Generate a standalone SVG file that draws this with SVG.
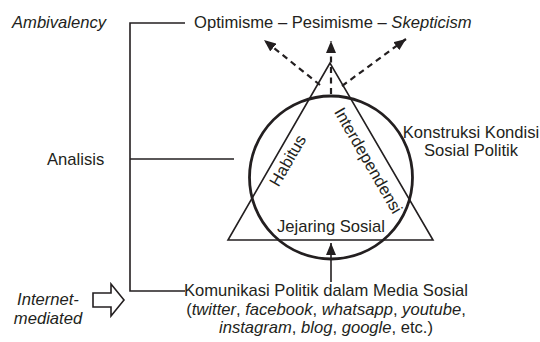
<svg xmlns="http://www.w3.org/2000/svg" width="540" height="342" viewBox="0 0 540 342">
  <style>
    text { font-family: "Liberation Sans", Arial, sans-serif; font-size: 16.6px; fill: #231f20; }
    .it { font-style: italic; }
    .mid { text-anchor: middle; }
    .ln { fill: none; stroke: #231f20; stroke-width: 1.6; }
    .dash { fill: none; stroke: #231f20; stroke-width: 2.2; stroke-dasharray: 6 4.5; }
  </style>
  <defs>
    <marker id="ah" markerUnits="userSpaceOnUse" markerWidth="12" markerHeight="10" refX="12" refY="5" orient="auto">
      <path d="M0,0 L12,5 L0,10 z" fill="#231f20"/>
    </marker>
  </defs>
  <rect width="540" height="342" fill="#ffffff"/>

  <g id="connectors">
    <path class="ln" d="M185,23 H130 V291 H185"/>
    <path class="ln" d="M130,159 H234"/>
    <path class="dash" d="M331,94 V41" marker-end="url(#ah)"/>
    <path class="dash" d="M320,85 L264,40" marker-end="url(#ah)"/>
    <path class="dash" d="M342,86 L406,39" marker-end="url(#ah)"/>
    <path class="ln" d="M331,282 V243" stroke-width="2" marker-end="url(#ah)"/>
  </g>

  <g id="ambivalency">
    <text class="it" x="12" y="28">Ambivalency</text>
  </g>

  <g id="optimisme">
    <text x="194" y="27.5">Optimisme – Pesimisme – <tspan class="it">Skepticism</tspan></text>
  </g>

  <g id="analisis">
    <text x="47" y="165">Analisis</text>
  </g>

  <g id="triangle">
    <polygon points="330,63 228,240 433,240" fill="none" stroke="#231f20" stroke-width="1.6" stroke-linejoin="miter"/>
    <text class="mid" x="292.6" y="163.3" transform="rotate(-60 292.6 163.3)">Habitus</text>
    <text class="mid" x="363.4" y="163.3" transform="rotate(60 363.4 163.3)">Interdependensi</text>
    <text class="mid" x="331" y="232">Jejaring Sosial</text>
  </g>

  <g id="circle">
    <circle cx="331" cy="177.5" r="81.5" fill="none" stroke="#231f20" stroke-width="2.8"/>
  </g>

  <g id="konstruksi">
    <text class="mid" x="471" y="137.5">Konstruksi Kondisi</text>
    <text class="mid" x="471" y="156">Sosial Politik</text>
  </g>

  <g id="komunikasi">
    <text class="mid" x="326" y="296">Komunikasi Politik dalam Media Sosial</text>
    <text class="mid" x="326" y="314.5">(<tspan class="it">twitter</tspan>, <tspan class="it">facebook</tspan>, <tspan class="it">whatsapp</tspan>, <tspan class="it">youtube</tspan>,</text>
    <text class="mid" x="326" y="333">
      <tspan class="it">instagram</tspan>, <tspan class="it">blog</tspan>, <tspan class="it">google</tspan>, etc.)</text>
  </g>

  <g id="internet">
    <text class="it mid" x="48" y="305">Internet-</text>
    <text class="it mid" x="48" y="323.5">mediated</text>
    <polygon points="93,293 111,293 111,284 124,300 111,316 111,307 93,307" fill="#ffffff" stroke="#231f20" stroke-width="1.6" stroke-linejoin="miter"/>
  </g>
</svg>
